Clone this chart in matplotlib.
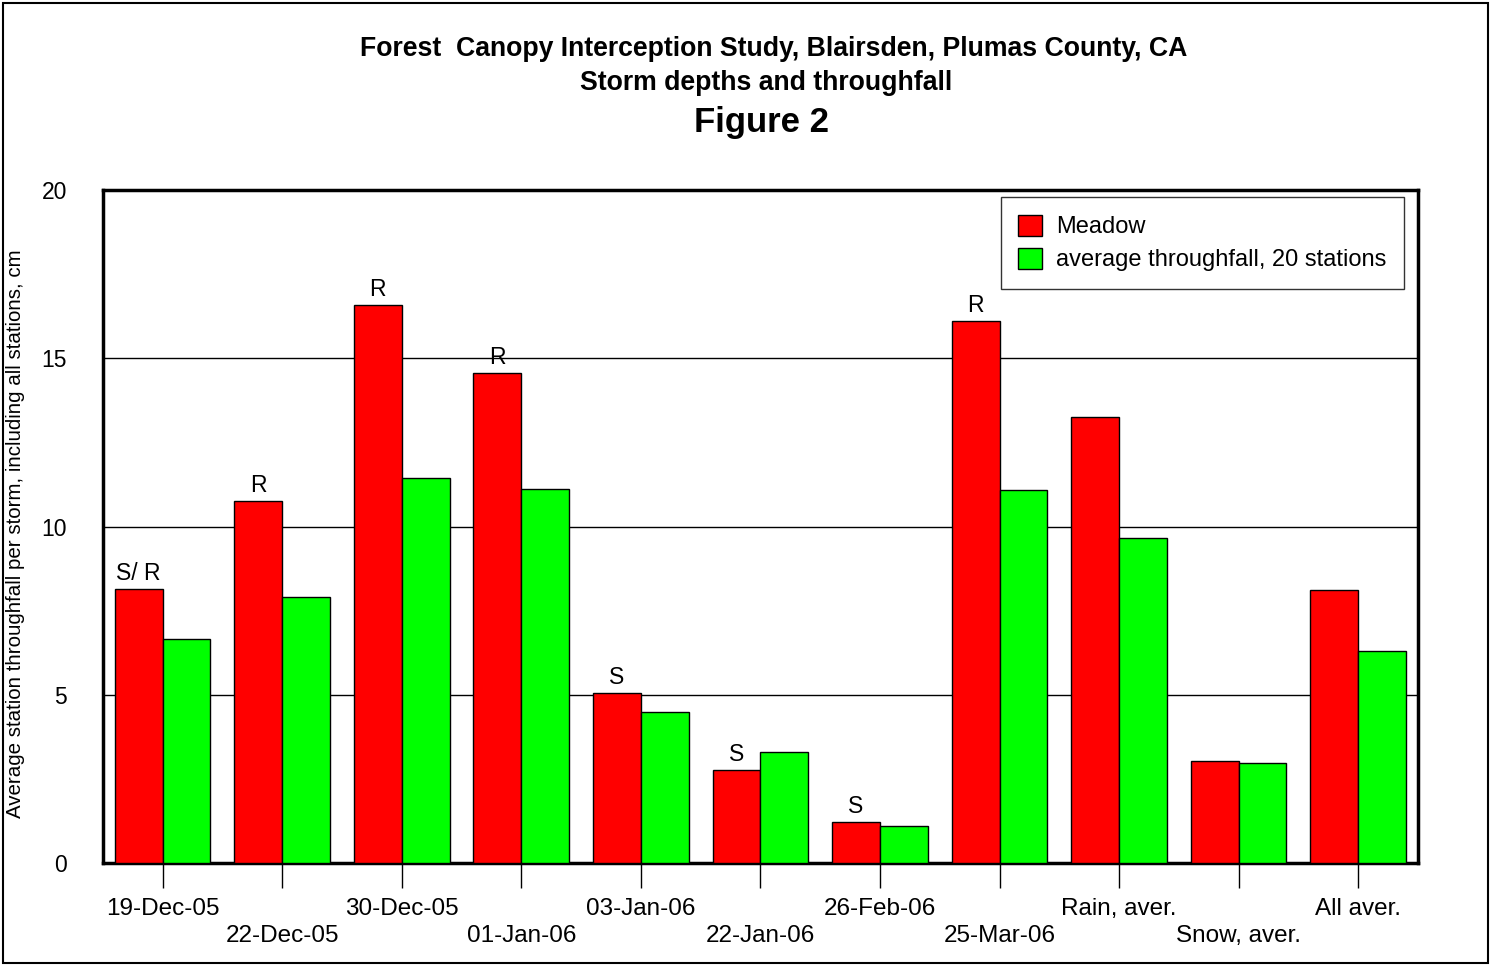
import matplotlib
matplotlib.use("Agg")
import matplotlib.pyplot as plt
import numpy as np

plt.rcParams['font.family'] = ['Liberation Sans', 'DejaVu Sans']

labels = ['19-Dec-05', '22-Dec-05', '30-Dec-05', '01-Jan-06', '03-Jan-06', '22-Jan-06',
          '26-Feb-06', '25-Mar-06', 'Rain, aver.', 'Snow, aver.', 'All aver.']
meadow = [8.14, 10.76, 16.58, 14.56, 5.05, 2.76, 1.22, 16.11, 13.25, 3.03, 8.11]
throughfall = [6.66, 7.90, 11.44, 11.11, 4.49, 3.30, 1.10, 11.08, 9.66, 2.97, 6.30]
storm_type = ['S/ R', 'R', 'R', 'R', 'S', 'S', 'S', 'R', '', '', '']

fig = plt.figure(figsize=(14.91, 9.66), dpi=100)
ax = fig.add_axes([0.069, 0.1066, 0.882, 0.6964])

x = np.arange(len(labels))
w = 0.4
ax.bar(x - w, meadow, w, align='edge', color='#ff0000', edgecolor='black', linewidth=1, label='Meadow', zorder=3)
ax.bar(x, throughfall, w, align='edge', color='#00ff00', edgecolor='black', linewidth=1,
       label='average throughfall, 20 stations', zorder=3)

for i, t in enumerate(storm_type):
    if t:
        ax.text(x[i] - w / 2, meadow[i] + 0.12, t, ha='center', va='bottom', fontsize=16.5)

ax.set_xlim(-0.5, len(labels) - 0.5)
ax.set_ylim(0, 20)
ax.set_yticks([0, 5, 10, 15, 20])
ax.yaxis.grid(True, color='black', linewidth=1, zorder=0)
ax.tick_params(axis='y', length=0, pad=26, labelsize=16.5)
ax.set_xticks(x)
ax.set_xticklabels([])
ax.tick_params(axis='x', length=18, width=1, direction='out')
for i, lab in enumerate(labels):
    yoff = -0.068 if i % 2 == 0 else -0.109
    ax.text(x[i], yoff, lab, transform=ax.get_xaxis_transform(), ha='center', va='center', fontsize=17.5)

for s in ax.spines.values():
    s.set_linewidth(2.5)

ax.set_ylabel('Average station throughfall per storm, including all stations, cm', fontsize=14.8)
ax.yaxis.set_label_coords(-0.059, 0.49)

leg = ax.legend(loc='upper right', bbox_to_anchor=(0.9895, 0.99), fontsize=17, frameon=True, fancybox=False,
                edgecolor='black', handlelength=1.0, handleheight=1.0, handletextpad=0.6,
                borderpad=0.75, labelspacing=0.4, borderaxespad=0)
leg.get_frame().set_linewidth(1)

fig.text(0.519, 0.949, 'Forest  Canopy Interception Study, Blairsden, Plumas County, CA', ha='center', va='center',
         fontsize=19.2, fontweight='bold')
fig.text(0.514, 0.914, 'Storm depths and throughfall', ha='center', va='center', fontsize=19.2, fontweight='bold')
fig.text(0.511, 0.873, 'Figure 2', ha='center', va='center', fontsize=25, fontweight='bold')

fig.patches.append(plt.Rectangle((0.002, 0.003), 0.996, 0.994, transform=fig.transFigure, fill=False,
                                 edgecolor='black', linewidth=1.5))

fig.savefig('out.png', dpi=100)
